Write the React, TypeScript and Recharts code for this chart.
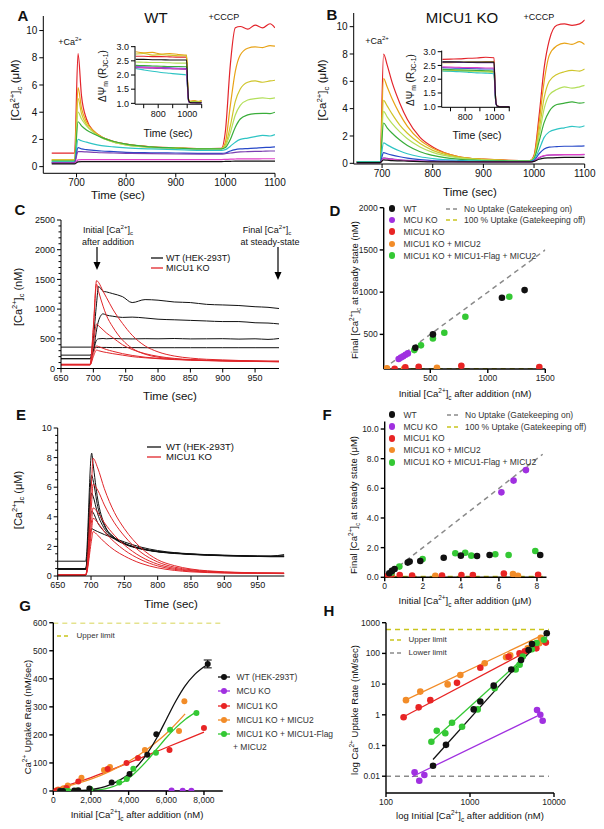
import React from 'react'
import { ComposedChart, Line, Scatter, XAxis, YAxis, ErrorBar } from 'recharts'

// ---------- panel A / B : time courses (uM) ----------
const tAB = [650, 696, 703, 710, 720, 735, 750, 775, 800, 850, 900, 950, 992, 1000, 1010, 1020, 1030, 1045, 1060, 1075, 1090, 1100]

const traceColors = ['#e3242b', '#e8a317', '#cfc52a', '#b3df5a', '#3aad3a', '#2ec4c4', '#2748c8', '#7b3fb0', '#e040c8', '#111111']

const wtA = [
  [1.0, 1.0, 8.3, 5.2, 3.5, 2.6, 2.2, 1.85, 1.65, 1.45, 1.38, 1.33, 1.35, 2.6, 7.5, 10.2, 10.3, 10.1, 10.4, 10.2, 10.5, 10.2],
  [0.5, 0.5, 5.8, 4.3, 3.3, 2.6, 2.2, 1.85, 1.65, 1.45, 1.38, 1.33, 1.33, 1.8, 4.5, 7.0, 8.2, 8.7, 8.8, 8.75, 8.9, 8.85],
  [0.5, 0.5, 5.0, 3.9, 3.1, 2.5, 2.15, 1.8, 1.6, 1.42, 1.36, 1.32, 1.32, 1.6, 3.0, 4.8, 5.7, 6.2, 6.3, 6.2, 6.3, 6.35],
  [0.45, 0.45, 4.0, 3.5, 3.0, 2.5, 2.15, 1.8, 1.6, 1.42, 1.36, 1.3, 1.3, 1.5, 2.5, 3.8, 4.5, 4.9, 5.0, 5.05, 5.0, 5.05],
  [0.4, 0.4, 3.3, 3.0, 2.7, 2.4, 2.15, 1.85, 1.65, 1.45, 1.37, 1.3, 1.3, 1.4, 2.0, 2.9, 3.5, 3.8, 3.9, 3.92, 3.9, 4.0],
  [0.35, 0.35, 2.0, 1.9, 1.8, 1.65, 1.55, 1.45, 1.38, 1.3, 1.25, 1.2, 1.2, 1.25, 1.5, 1.8, 2.0, 2.1, 2.2, 2.3, 2.25, 2.35],
  [0.3, 0.3, 1.4, 1.3, 1.25, 1.2, 1.15, 1.1, 1.05, 1.02, 1.0, 0.98, 0.98, 1.0, 1.15, 1.25, 1.3, 1.33, 1.36, 1.4, 1.42, 1.45],
  [0.3, 0.3, 1.1, 1.1, 1.08, 1.05, 1.02, 1.0, 0.98, 0.95, 0.93, 0.92, 0.92, 0.95, 1.0, 1.05, 1.08, 1.1, 1.12, 1.13, 1.15, 1.15],
  [0.25, 0.25, 0.5, 0.52, 0.52, 0.52, 0.52, 0.52, 0.52, 0.52, 0.52, 0.52, 0.52, 0.53, 0.55, 0.56, 0.57, 0.57, 0.57, 0.58, 0.58, 0.58],
  [0.2, 0.2, 0.35, 0.37, 0.37, 0.37, 0.37, 0.37, 0.37, 0.37, 0.37, 0.37, 0.37, 0.38, 0.39, 0.4, 0.4, 0.4, 0.4, 0.4, 0.4, 0.4],
]

const koB = [
  [0.1, 0.1, 8.0, 7.2, 5.9, 4.4, 3.2, 1.9, 1.2, 0.5, 0.3, 0.22, 0.2, 0.6, 3.5, 7.0, 9.0, 10.1, 10.2, 10.1, 10.2, 10.5],
  [0.1, 0.1, 6.2, 5.6, 4.7, 3.6, 2.7, 1.7, 1.1, 0.5, 0.3, 0.22, 0.2, 0.5, 3.0, 6.0, 7.9, 8.6, 8.8, 8.7, 8.9, 8.7],
  [0.1, 0.1, 4.6, 4.2, 3.6, 2.8, 2.2, 1.45, 0.95, 0.45, 0.28, 0.2, 0.2, 0.45, 2.4, 4.8, 6.0, 6.5, 6.7, 6.8, 6.75, 6.9],
  [0.1, 0.1, 3.8, 3.4, 2.9, 2.3, 1.8, 1.2, 0.8, 0.4, 0.25, 0.2, 0.18, 0.4, 2.0, 4.0, 5.0, 5.4, 5.6, 5.5, 5.6, 5.7],
  [0.1, 0.1, 2.95, 2.6, 2.2, 1.7, 1.3, 0.85, 0.58, 0.3, 0.2, 0.17, 0.16, 0.35, 1.6, 3.0, 3.8, 4.3, 4.4, 4.5, 4.4, 4.45],
  [0.1, 0.1, 1.5, 1.35, 1.15, 0.9, 0.7, 0.48, 0.35, 0.22, 0.17, 0.15, 0.15, 0.28, 1.0, 1.9, 2.3, 2.5, 2.6, 2.7, 2.65, 2.75],
  [0.05, 0.05, 0.78, 0.7, 0.6, 0.48, 0.38, 0.27, 0.2, 0.15, 0.12, 0.12, 0.12, 0.2, 0.7, 1.05, 1.18, 1.22, 1.25, 1.25, 1.26, 1.27],
  [0.05, 0.05, 0.4, 0.36, 0.32, 0.26, 0.22, 0.17, 0.14, 0.12, 0.11, 0.1, 0.1, 0.15, 0.4, 0.55, 0.6, 0.62, 0.63, 0.63, 0.63, 0.64],
  [0.05, 0.05, 0.35, 0.32, 0.28, 0.24, 0.2, 0.16, 0.13, 0.11, 0.1, 0.1, 0.1, 0.15, 0.42, 0.57, 0.61, 0.62, 0.63, 0.64, 0.64, 0.65],
  [0.05, 0.05, 0.25, 0.23, 0.2, 0.18, 0.16, 0.13, 0.11, 0.1, 0.1, 0.1, 0.1, 0.14, 0.3, 0.38, 0.4, 0.42, 0.43, 0.43, 0.44, 0.44],
]

// insets: membrane potential (R JC-1)
const tIn = [645, 700, 760, 820, 880, 940, 996, 1003, 1010, 1020, 1050, 1080, 1100]
const wtPsi = [
  [2.66, 2.66, 2.65, 2.65, 2.64, 2.63, 2.63, 1.7, 1.12, 1.06, 1.08, 1.05, 1.09],
  [2.82, 2.78, 2.8, 2.74, 2.76, 2.72, 2.7, 1.75, 1.15, 1.08, 1.1, 1.07, 1.1],
  [2.74, 2.76, 2.7, 2.72, 2.7, 2.68, 2.68, 1.7, 1.12, 1.06, 1.07, 1.06, 1.08],
  [2.46, 2.45, 2.44, 2.44, 2.43, 2.42, 2.42, 1.6, 1.1, 1.04, 1.05, 1.04, 1.05],
  [2.34, 2.33, 2.32, 2.31, 2.3, 2.3, 2.29, 1.55, 1.08, 1.03, 1.04, 1.03, 1.04],
  [2.23, 2.18, 2.13, 2.09, 2.06, 2.03, 2.0, 1.45, 1.07, 1.03, 1.03, 1.02, 1.03],
  [2.29, 2.28, 2.27, 2.26, 2.25, 2.24, 2.23, 1.5, 1.07, 1.03, 1.03, 1.02, 1.03],
  [2.26, 2.25, 2.24, 2.23, 2.22, 2.21, 2.2, 1.5, 1.07, 1.02, 1.02, 1.02, 1.02],
  [2.28, 2.27, 2.26, 2.25, 2.24, 2.22, 2.21, 1.5, 1.07, 1.02, 1.02, 1.02, 1.02],
  [2.55, 2.55, 2.54, 2.54, 2.53, 2.53, 2.53, 1.65, 1.1, 1.03, 1.02, 1.02, 1.02],
]
const koPsi = [
  [2.72, 2.73, 2.74, 2.76, 2.77, 2.8, 2.78, 1.8, 1.15, 1.03, 1.0, 1.0, 1.0],
  [2.6, 2.6, 2.61, 2.62, 2.62, 2.63, 2.63, 1.75, 1.12, 1.02, 1.0, 1.0, 1.0],
  [2.33, 2.32, 2.31, 2.3, 2.3, 2.29, 2.28, 1.55, 1.1, 1.02, 1.0, 1.0, 1.0],
  [2.3, 2.29, 2.28, 2.28, 2.27, 2.26, 2.25, 1.55, 1.1, 1.02, 1.0, 1.0, 1.0],
  [2.36, 2.35, 2.34, 2.33, 2.32, 2.31, 2.3, 1.55, 1.1, 1.02, 1.0, 1.0, 1.0],
  [2.3, 2.29, 2.27, 2.25, 2.23, 2.22, 2.2, 1.5, 1.08, 1.02, 1.0, 1.0, 1.0],
  [2.42, 2.41, 2.4, 2.39, 2.38, 2.37, 2.37, 1.6, 1.1, 1.02, 1.0, 1.0, 1.0],
  [2.62, 2.62, 2.61, 2.61, 2.6, 2.6, 2.6, 1.75, 1.12, 1.02, 1.0, 1.0, 1.0],
  [2.45, 2.44, 2.43, 2.42, 2.42, 2.41, 2.41, 1.6, 1.1, 1.02, 1.0, 1.0, 1.0],
  [2.63, 2.63, 2.63, 2.62, 2.62, 2.62, 2.62, 1.75, 1.12, 1.02, 1.0, 1.0, 1.0],
]

// ---------- panel C (nM) ----------
const tC = [650, 695, 700, 705, 708, 715, 720, 730, 745, 760, 780, 800, 825, 850, 875, 900, 925, 950, 970, 987]
const wtC = [
  [360, 360, 360, 355, 355, 355, 355, 352, 352, 352, 350, 350, 350, 350, 350, 350, 350, 350, 350, 350],
  [225, 225, 300, 480, 500, 505, 500, 505, 500, 498, 502, 500, 505, 498, 500, 502, 495, 500, 490, 505],
  [165, 165, 300, 650, 800, 920, 900, 880, 860, 865, 850, 830, 820, 810, 800, 790, 790, 770, 765, 750],
  [165, 165, 500, 1100, 1380, 1300, 1290, 1260, 1210, 1110, 1160, 1150, 1120, 1110, 1080, 1070, 1060, 1040, 1030, 1010],
]
const koC = [
  [70, 70, 700, 1480, 1450, 1300, 1200, 1000, 760, 560, 380, 280, 210, 175, 155, 145, 135, 130, 125, 125],
  [70, 70, 650, 1420, 1300, 1050, 900, 700, 480, 340, 240, 190, 160, 145, 135, 130, 125, 122, 120, 120],
  [65, 65, 400, 750, 720, 650, 600, 520, 400, 320, 250, 205, 170, 150, 140, 130, 125, 122, 120, 118],
  [60, 60, 250, 380, 370, 340, 320, 290, 250, 220, 190, 170, 155, 145, 135, 130, 125, 120, 118, 115],
  [60, 60, 200, 310, 300, 280, 270, 250, 225, 200, 180, 165, 150, 140, 132, 128, 122, 118, 115, 112],
]

// ---------- panel E (uM) ----------
const tE = [650, 692, 701, 703, 710, 720, 735, 750, 775, 800, 825, 850, 875, 900, 925, 950, 970, 990]
const wtE = [
  [1.0, 1.0, 8.3, 7.6, 5.2, 3.5, 2.6, 2.2, 1.85, 1.65, 1.55, 1.48, 1.43, 1.4, 1.38, 1.35, 1.35, 1.45],
  [0.5, 0.5, 6.8, 6.5, 4.7, 3.4, 2.6, 2.2, 1.85, 1.65, 1.55, 1.47, 1.42, 1.38, 1.36, 1.33, 1.33, 1.35],
  [0.45, 0.45, 5.6, 5.4, 4.2, 3.2, 2.55, 2.2, 1.85, 1.65, 1.55, 1.47, 1.42, 1.38, 1.35, 1.32, 1.32, 1.33],
  [0.45, 0.45, 4.4, 4.3, 3.6, 3.0, 2.5, 2.15, 1.82, 1.63, 1.52, 1.45, 1.4, 1.36, 1.34, 1.32, 1.3, 1.3],
  [0.5, 0.5, 3.2, 3.15, 3.0, 2.8, 2.55, 2.3, 1.95, 1.72, 1.58, 1.5, 1.44, 1.4, 1.37, 1.35, 1.33, 1.35],
]
const koE = [
  [0.07, 0.07, 6.5, 7.95, 7.3, 5.9, 4.3, 3.2, 1.9, 1.1, 0.7, 0.47, 0.35, 0.28, 0.24, 0.22, 0.21, 0.2],
  [0.07, 0.07, 5.0, 6.2, 5.8, 4.8, 3.6, 2.7, 1.6, 0.95, 0.6, 0.42, 0.32, 0.26, 0.22, 0.2, 0.2, 0.19],
  [0.07, 0.07, 3.8, 4.6, 4.3, 3.6, 2.75, 2.1, 1.3, 0.8, 0.52, 0.37, 0.28, 0.24, 0.21, 0.19, 0.18, 0.18],
  [0.07, 0.07, 3.2, 3.9, 3.6, 3.0, 2.3, 1.75, 1.1, 0.68, 0.45, 0.33, 0.26, 0.22, 0.2, 0.18, 0.18, 0.17],
  [0.07, 0.07, 2.5, 3.0, 2.75, 2.3, 1.75, 1.35, 0.85, 0.55, 0.38, 0.28, 0.23, 0.2, 0.18, 0.17, 0.17, 0.16],
]

// ---------- panel D (nM) ----------
const dWtX = [370, 523, 1123, 1320]
const dWtY = [342, 500, 933, 1024]
const dMcuX = [225, 245, 265, 285, 305]
const dMcuY = [208, 225, 240, 258, 275]
const dMicu1X = [190, 283, 399, 770, 1448]
const dMicu1Y = [92, 110, 117, 129, 113]
const dMicu2X = [123, 272, 558]
const dMicu2Y = [98, 92, 105]
const dFlagX = [361, 419, 523, 622, 805, 1187]
const dFlagY = [314, 370, 452, 519, 708, 945]
const dNoUpX = [95, 1500]
const dNoUpY = [95, 1500]
const dFullX = [95, 1500]
const dFullY = [93, 93]

// ---------- panel F (uM) ----------
const fWtX = [0.24, 0.38, 0.52, 1.21, 1.31, 1.87, 3.1, 4.0, 4.85, 5.51, 8.17]
const fWtY = [0.27, 0.43, 0.56, 0.99, 1.06, 1.1, 1.32, 1.46, 1.44, 1.5, 1.5]
const fMcuX = [6.13, 6.77, 7.42]
const fMcuY = [5.73, 6.52, 7.23]
const fMicu1X = [0.17, 0.35, 0.79, 1.44, 3.01, 4.03, 4.63, 6.26, 8.06]
const fMicu1Y = [0.1, 0.15, 0.15, 0.12, 0.12, 0.16, 0.15, 0.25, 0.17]
const fMicu2X = [0.2, 0.35, 2.66, 6.74, 7.0]
const fMicu2Y = [0.08, 0.1, 0.1, 0.22, 0.1]
const fFlagX = [0.35, 0.77, 1.99, 3.71, 4.23, 4.55, 5.81, 6.51, 7.91]
const fFlagY = [0.3, 0.72, 1.23, 1.62, 1.66, 1.46, 1.55, 1.5, 1.77]
const fNoUpX = [0, 8.3]
const fNoUpY = [0, 8.3]
const fFullX = [0, 8.5]
const fFullY = [0.05, 0.05]

// ---------- panels G / H : uptake rate (nM/sec) ----------
const wtX = [363, 518, 1107, 1327, 1915, 3100, 4050, 4990, 5470, 8200]
const wtY = [0.022, 0.105, 1.5, 2.7, 8.9, 30, 61, 129, 202, 453]
const wtErr = [0, 0, 0, 0, 0, 0, 0, 0, 0, 14]
const mcuX = [219, 249, 286, 6280, 6870, 7330]
const mcuY = [0.0134, 0.0071, 0.011, 1.44, 1.0, 0.64]
const micu1X = [162, 245, 337, 700, 1327, 2884, 3890, 4500, 6170, 8000]
const micu1Y = [0.83, 1.75, 3.0, 11, 34, 78, 100, 118, 146, 225]
const micu2X = [173, 256, 542, 767, 1496, 2690, 3010, 4864, 6675, 6960]
const micu2Y = [3.0, 5.7, 9.8, 19.8, 47.6, 74.6, 86, 146, 214, 320]
const flagX = [347, 402, 508, 611, 804, 1236, 1968, 3500, 3900, 4250, 5450, 6200, 7600]
const flagY = [0.133, 0.3, 0.25, 0.55, 0.41, 1.5, 7.3, 30, 43, 79, 136, 218, 278]

// G fitted curves
const gWtFitX = [500, 1000, 1500, 2000, 2500, 3000, 3500, 4000, 4500, 5000, 5500, 6000, 6500, 7000, 7500, 8200]
const gWtFitY = [0, 0.5, 2, 5, 11, 22, 38, 60, 92, 135, 190, 255, 320, 375, 415, 452]
const gMcuFitX = [200, 7400]
const gMcuFitY = [0, 0]
const gMicu1FitX = [0, 2000, 4000, 6000, 8000]
const gMicu1FitY = [5, 48, 100, 155, 210]
const gMicu2FitX = [0, 1000, 2000, 3000, 4000, 5000, 6000, 7000]
const gMicu2FitY = [5, 22, 42, 70, 105, 150, 205, 275]
const gFlagFitX = [500, 1500, 2500, 3000, 3500, 4000, 4500, 5000, 5500, 6000, 6500, 7000, 7600]
const gFlagFitY = [0, 1, 5, 12, 25, 45, 75, 110, 150, 190, 225, 255, 282]
const gUpperX = [0, 8900]
const gUpperY = [600, 600]

// H log-log fits
const hWtFitX = [363, 8470]
const hWtFitY = [0.035, 510]
const hMcuFitX = [204, 6280]
const hMcuFitY = [0.0096, 0.91]
const hMicu1FitX = [160, 8000]
const hMicu1FitY = [0.85, 245]
const hMicu2FitX = [160, 7000]
const hMicu2FitY = [2.8, 370]
const hFlagFitX = [331, 8260]
const hFlagFitY = [0.118, 350]
const hLimX = [100, 8700]
const hUpperY = [600, 600]
const hLowerY = [0.01, 0.01]

const C_WT = '#111111'
const C_MCU = '#a030e0'
const C_MICU1 = '#e82424'
const C_MICU2 = '#f28c28'
const C_FLAG = '#34c834'
const C_GRAY = '#8a8a8a'
const C_YEL = '#c9c51e'
const C_RED = '#e0262a'

const pts = (xs: number[], ys: number[]) => xs.map((x, i) => ({ x, y: ys[i] }))
const range = (a: number, b: number, s: number) => {
  const out: number[] = []
  for (let v = a; v <= b + 1e-9; v += s) out.push(Math.round(v * 1000) / 1000)
  return out
}

function frame(left: number, top: number, width: number, height: number, x0: number, y0: number, x1: number, y1: number) {
  return {
    box: { position: 'absolute' as const, left, top },
    width, height,
    margin: { top: y0 - top, right: left + width - x1, bottom: 0, left: 0 },
    yW: x0 - left,
    xH: top + height - y1,
  }
}

const igor = (fs: number) => ({
  type: 'number' as const, allowDataOverflow: true, interval: 0 as const,
  axisLine: { stroke: '#000' }, tickLine: { stroke: '#000' }, tickSize: 4, tickMargin: 2,
  tick: { fill: '#111', fontSize: fs },
})
const prism = (fs: number) => ({
  type: 'number' as const, allowDataOverflow: true, interval: 0 as const,
  axisLine: { stroke: '#000', strokeWidth: 1.4 }, tickLine: { stroke: '#000', strokeWidth: 1.4 }, tickSize: 4, tickMargin: 2,
  tick: { fill: '#222', fontSize: fs },
})

// y tick with short minor marks (labels only on major values)
const minorYTick = (fs: number, step: number) => (p: any) => {
  const v = p.payload.value
  const ax = p.x + 6
  const big = Math.abs(v / step - Math.round(v / step)) < 1e-6
  return (
    <g>
      <line x1={ax} y1={p.y} x2={ax - (big ? 4 : 2.5)} y2={p.y} stroke="#000" />
      {big && <text x={p.x} y={p.y} dy="0.355em" textAnchor="end" fontSize={fs} fill="#111">{v}</text>}
    </g>
  )
}

const sup = { fontSize: '0.68em', verticalAlign: '0.6em', lineHeight: 0 }
const sub = { fontSize: '0.68em', verticalAlign: '-0.35em', lineHeight: 0 }
const Ca = () => <>[Ca<span style={sup}>2+</span>]<span style={sub}>c</span></>

function Txt({ x, y, s = 10, rot, bold, a = 'middle', c = '#111', children }: any) {
  const tx = a === 'middle' ? '-50%' : a === 'end' ? '-100%' : '0'
  return (
    <div style={{ position: 'absolute', left: x, top: y, fontSize: s, fontWeight: bold ? 700 : 400, color: c, whiteSpace: 'nowrap', lineHeight: 1, transform: `translate(${tx},-50%)${rot ? ' rotate(-90deg)' : ''}` }}>
      {children}
    </div>
  )
}
const DotKey = ({ x, y, c, r = 3.3 }: any) => (
  <div style={{ position: 'absolute', left: x - r, top: y - r, width: 2 * r, height: 2 * r, borderRadius: '50%', background: c }} />
)
const LineKey = ({ x, y, w, c, dash, dot, sw = 1.3 }: any) => (
  <svg style={{ position: 'absolute', left: x, top: y - 4 }} width={w} height={8}>
    <line x1={0} y1={4} x2={w} y2={4} stroke={c} strokeWidth={sw} strokeDasharray={dash ? '4 3' : undefined} />
    {dot && <circle cx={w / 2} cy={4} r={3} fill={c} />}
  </svg>
)

const dotShape = (c: string, r = 3.3) => (p: any) => <circle cx={p.cx} cy={p.cy} r={r} fill={c} />

function traceLines(t: number[], rows: number[][], colors: string[], w: number, key: string) {
  return rows.map((r, i) => (
    <Line key={key + i} data={pts(t, r)} dataKey="y" stroke={colors[i]} strokeWidth={w} dot={false} type="monotone" isAnimationActive={false} />
  ))
}
function fitLine(xs: number[], ys: number[], c: string, key: string, dash = false, w = 1.3, type: any = 'monotone') {
  return <Line key={key} data={pts(xs, ys)} dataKey="y" stroke={c} strokeWidth={w} strokeDasharray={dash ? '5 4' : undefined} dot={false} type={type} isAnimationActive={false} />
}
function dots(xs: number[], ys: number[], c: string, key: string, r = 3.3) {
  return <Scatter key={key} data={pts(xs, ys)} shape={dotShape(c, r)} isAnimationActive={false} />
}

function TraceChart({ f, t, rows, colors, xd, yd, xt, yt, fs, sw, xfmt, yfmt, minorStep }: any) {
  const yProps = minorStep
    ? { tick: minorYTick(fs, minorStep), tickLine: false }
    : { tickFormatter: yfmt }
  return (
    <div style={f.box}>
      <ComposedChart width={f.width} height={f.height} margin={f.margin}>
        <XAxis dataKey="x" {...igor(fs)} domain={xd} ticks={xt} height={f.xH} tickFormatter={xfmt} />
        <YAxis dataKey="y" {...igor(fs)} domain={yd} ticks={yt} width={f.yW} {...yProps} />
        {rows.map((r: number[][], k: number) => traceLines(t[k], r, colors[k], sw, 's' + k))}
      </ComposedChart>
    </div>
  )
}

export default function App() {
  const fA = frame(0, 0, 290, 195, 43.3, 16, 275, 173.3)
  const fAi = frame(100, 40, 110, 80, 135, 46.1, 201.7, 104.2)
  const fB = frame(302, 0, 302, 195, 353.7, 13, 584.7, 164)
  const fBi = frame(405, 44, 110, 80, 441.7, 50.6, 510, 107.3)
  const fC = frame(0, 205, 290, 195, 61, 220, 279, 368.5)
  const fD = frame(302, 198, 300, 197, 383.7, 207.7, 545.3, 369)
  const fE = frame(0, 415, 290, 190, 57.7, 428, 284.3, 576)
  const fF = frame(302, 410, 300, 190, 384.7, 421.6, 546.5, 577.3)
  const fG = frame(0, 615, 300, 200, 53.3, 622.7, 222.8, 791)
  const fH = frame(302, 615, 300, 200, 386, 622.7, 554, 793)

  const inTicks = [700, 800, 900, 1000, 1100]
  const inFmt = (v: number) => (v === 800 || v === 1000 ? String(v) : '')
  const f1 = (v: number) => v.toFixed(1)
  const comma = (v: number) => v.toLocaleString('en-US')

  const gWt = wtX.map((x, i) => ({ x, y: wtY[i], e: wtErr[i] }))

  return (
    <div style={{ position: 'absolute', left: 0, top: 0, width: 604, height: 829, background: '#fff', fontFamily: 'Arial, "Liberation Sans", Helvetica, sans-serif', color: '#111' }}>
      {/* A */}
      <TraceChart f={fA} t={[tAB]} rows={[wtA]} colors={[traceColors]} xd={[633, 1100]} yd={[-0.49, 11.07]} xt={[700, 800, 900, 1000, 1100]} yt={[0, 2, 4, 6, 8, 10]} fs={10} sw={1.2} />
      <TraceChart f={fAi} t={[tIn]} rows={[wtPsi]} colors={[traceColors]} xd={[640, 1100]} yd={[0.97, 3.02]} xt={inTicks} yt={[1, 1.5, 2, 2.5, 3]} fs={9} sw={1.1} xfmt={inFmt} yfmt={f1} />
      {/* B */}
      <TraceChart f={fB} t={[tAB]} rows={[koB]} colors={[traceColors]} xd={[644, 1100]} yd={[-0.05, 11]} xt={[700, 800, 900, 1000, 1100]} yt={[0, 2, 4, 6, 8, 10]} fs={10} sw={1.2} />
      <TraceChart f={fBi} t={[tIn]} rows={[koPsi]} colors={[traceColors]} xd={[640, 1105]} yd={[0.98, 3.04]} xt={inTicks} yt={[1, 1.5, 2, 2.5, 3]} fs={9} sw={1.1} xfmt={inFmt} yfmt={f1} />
      {/* C */}
      <TraceChart f={fC} t={[tC, tC]} rows={[wtC, koC]} colors={[wtC.map(() => C_WT), koC.map(() => C_RED)]} xd={[650, 987]} yd={[0, 2500]} xt={[650, 700, 750, 800, 850, 900, 950]} yt={range(0, 2500, 100)} minorStep={500} fs={9} sw={1} />
      {/* E */}
      <TraceChart f={fE} t={[tE, tE]} rows={[wtE, koE]} colors={[wtE.map(() => C_WT), koE.map(() => C_RED)]} xd={[650, 990]} yd={[0, 10]} xt={[650, 700, 750, 800, 850, 900, 950]} yt={range(0, 10, 0.5)} minorStep={2} fs={9} sw={1} />

      {/* D */}
      <div style={fD.box}>
        <ComposedChart width={fD.width} height={fD.height} margin={fD.margin}>
          <XAxis dataKey="x" {...prism(8.5)} domain={[95, 1500]} ticks={[500, 1000, 1500]} height={fD.xH} />
          <YAxis dataKey="y" {...prism(8.5)} domain={[90, 2000]} ticks={[500, 1000, 1500, 2000]} width={fD.yW} />
          {fitLine(dFullX, dFullY, C_YEL, 'df', true, 1.5, 'linear')}
          {fitLine(dNoUpX, dNoUpY, C_GRAY, 'dn', true, 1.5, 'linear')}
          {dots(dMicu2X, dMicu2Y, C_MICU2, 'd4')}
          {dots(dMicu1X, dMicu1Y, C_MICU1, 'd3')}
          {dots(dMcuX, dMcuY, C_MCU, 'd2')}
          {dots(dFlagX, dFlagY, C_FLAG, 'd5')}
          {dots(dWtX, dWtY, C_WT, 'd1')}
        </ComposedChart>
      </div>

      {/* F */}
      <div style={fF.box}>
        <ComposedChart width={fF.width} height={fF.height} margin={fF.margin}>
          <XAxis dataKey="x" {...prism(8.5)} domain={[0, 8.5]} ticks={[0, 2, 4, 6, 8]} height={fF.xH} />
          <YAxis dataKey="y" {...prism(8.5)} domain={[0, 10.5]} ticks={[0, 2, 4, 6, 8, 10]} width={fF.yW} tickFormatter={f1} />
          {fitLine(fFullX, fFullY, C_YEL, 'ff', true, 1.5, 'linear')}
          {fitLine(fNoUpX, fNoUpY, C_GRAY, 'fn', true, 1.5, 'linear')}
          {dots(fMicu2X, fMicu2Y, C_MICU2, 'f4')}
          {dots(fMicu1X, fMicu1Y, C_MICU1, 'f3')}
          {dots(fMcuX, fMcuY, C_MCU, 'f2')}
          {dots(fFlagX, fFlagY, C_FLAG, 'f5')}
          {dots(fWtX, fWtY, C_WT, 'f1')}
        </ComposedChart>
      </div>

      {/* G */}
      <div style={fG.box}>
        <ComposedChart width={fG.width} height={fG.height} margin={fG.margin}>
          <XAxis dataKey="x" {...prism(8.5)} domain={[0, 9000]} ticks={[0, 2000, 4000, 6000, 8000]} height={fG.xH} tickFormatter={comma} />
          <YAxis dataKey="y" {...prism(8.5)} domain={[0, 600]} ticks={[0, 100, 200, 300, 400, 500, 600]} width={fG.yW} />
          {fitLine(gUpperX, gUpperY, C_YEL, 'gu', true, 1.5, 'linear')}
          {fitLine(gMcuFitX, gMcuFitY, C_MCU, 'g2')}
          {fitLine(gMicu1FitX, gMicu1FitY, C_MICU1, 'g3')}
          {fitLine(gMicu2FitX, gMicu2FitY, C_MICU2, 'g4')}
          {fitLine(gFlagFitX, gFlagFitY, C_FLAG, 'g5')}
          {fitLine(gWtFitX, gWtFitY, C_WT, 'g1')}
          {dots(mcuX, mcuY, C_MCU, 'gd2', 3)}
          {dots(micu2X, micu2Y, C_MICU2, 'gd4', 3)}
          {dots(micu1X, micu1Y, C_MICU1, 'gd3', 3)}
          {dots(flagX, flagY, C_FLAG, 'gd5', 3)}
          <Scatter data={gWt} shape={dotShape(C_WT, 3)} isAnimationActive={false}>
            <ErrorBar dataKey="e" direction="y" width={4} stroke="#000" strokeWidth={1} />
          </Scatter>
        </ComposedChart>
      </div>

      {/* H */}
      <div style={fH.box}>
        <ComposedChart width={fH.width} height={fH.height} margin={fH.margin}>
          <XAxis dataKey="x" {...prism(8.5)} scale="log" domain={[100, 10000]} ticks={[100, 1000, 10000]} height={fH.xH} />
          <YAxis dataKey="y" {...prism(8.5)} scale="log" domain={[0.00284, 1000]} ticks={[0.01, 0.1, 1, 10, 100, 1000]} width={fH.yW} />
          {fitLine(hLimX, hUpperY, C_YEL, 'hu', true, 1.5, 'linear')}
          {fitLine(hLimX, hLowerY, C_GRAY, 'hl', true, 1.5, 'linear')}
          {fitLine(hMcuFitX, hMcuFitY, C_MCU, 'h2', false, 1.3, 'linear')}
          {fitLine(hMicu1FitX, hMicu1FitY, C_MICU1, 'h3', false, 1.3, 'linear')}
          {fitLine(hMicu2FitX, hMicu2FitY, C_MICU2, 'h4', false, 1.3, 'linear')}
          {fitLine(hFlagFitX, hFlagFitY, C_FLAG, 'h5', false, 1.3, 'linear')}
          {fitLine(hWtFitX, hWtFitY, C_WT, 'h1', false, 1.3, 'linear')}
          {dots(mcuX, mcuY, C_MCU, 'hd2')}
          {dots(micu2X, micu2Y, C_MICU2, 'hd4')}
          {dots(micu1X, micu1Y, C_MICU1, 'hd3')}
          {dots(flagX, flagY, C_FLAG, 'hd5')}
          {dots(wtX, wtY, C_WT, 'hd1')}
        </ComposedChart>
      </div>

      {/* ---- texts: A ---- */}
      <Txt x={23} y={15} s={15} bold>A</Txt>
      <Txt x={156} y={17} s={15}>WT</Txt>
      <Txt x={224} y={17} s={9}>+CCCP</Txt>
      <Txt x={70} y={42} s={9}>+Ca<span style={sup}>2+</span></Txt>
      <Txt x={16} y={90} s={11.5} rot><Ca /> (μM)</Txt>
      <Txt x={118} y={196} s={11.5}>Time (sec)</Txt>
      <Txt x={103} y={76} s={10} rot>ΔΨ<span style={sub}>m</span> (R<span style={sub}>JC-1</span>)</Txt>
      <Txt x={168} y={133} s={10.5}>Time (sec)</Txt>

      {/* B */}
      <Txt x={332} y={14} s={15} bold>B</Txt>
      <Txt x={462} y={17} s={15}>MICU1 KO</Txt>
      <Txt x={539} y={17} s={9}>+CCCP</Txt>
      <Txt x={377} y={41} s={9}>+Ca<span style={sup}>2+</span></Txt>
      <Txt x={323} y={90} s={11.5} rot><Ca /> (μM)</Txt>
      <Txt x={470} y={193} s={11.5}>Time (sec)</Txt>
      <Txt x={411} y={80} s={10} rot>ΔΨ<span style={sub}>m</span> (R<span style={sub}>JC-1</span>)</Txt>
      <Txt x={477} y={135} s={10.5}>Time (sec)</Txt>

      {/* C */}
      <Txt x={20} y={209} s={15} bold>C</Txt>
      <Txt x={18} y={297} s={11} rot><Ca /> (nM)</Txt>
      <Txt x={170} y={397} s={11.5}>Time (sec)</Txt>
      <Txt x={108} y={230} s={9}>Initial <Ca /></Txt>
      <Txt x={108} y={242} s={9}>after addition</Txt>
      <Txt x={267} y={230} s={9}>Final <Ca /></Txt>
      <Txt x={270} y={242} s={9}>at steady-state</Txt>
      <svg style={{ position: 'absolute', left: 90, top: 246 }} width={14} height={26}>
        <line x1={7} y1={1} x2={7} y2={18} stroke="#000" strokeWidth={1.2} />
        <path d="M3.5 16 L7 24 L10.5 16 Z" fill="#000" />
      </svg>
      <svg style={{ position: 'absolute', left: 271, top: 246 }} width={14} height={36}>
        <line x1={7} y1={1} x2={7} y2={28} stroke="#000" strokeWidth={1.2} />
        <path d="M3.5 26 L7 34 L10.5 26 Z" fill="#000" />
      </svg>
      <LineKey x={151} y={257.5} w={12} c={C_WT} />
      <Txt x={166} y={257.5} s={9} a="start">WT (HEK-293T)</Txt>
      <LineKey x={151} y={267.5} w={12} c={C_RED} />
      <Txt x={166} y={267.5} s={9} a="start">MICU1 KO</Txt>

      {/* D */}
      <Txt x={335} y={210} s={15} bold>D</Txt>
      <Txt x={355} y={290} s={9.5} rot>Final <Ca /> at steady state (nM)</Txt>
      <Txt x={465} y={394} s={9.5}>Initial <Ca /> after addition (nM)</Txt>
      {[['WT', C_WT], ['MCU KO', C_MCU], ['MICU1 KO', C_MICU1], ['MICU1 KO + MICU2', C_MICU2], ['MICU1 KO + MICU1-Flag + MICU2', C_FLAG]].map(([l, c], i) => (
        <React.Fragment key={'dl' + i}>
          <DotKey x={392} y={[208.5, 220, 231.7, 244, 255.7][i]} c={c} />
          <Txt x={403.5} y={[208.5, 220, 231.7, 244, 255.7][i]} s={8.5} a="start" c="#333">{l}</Txt>
        </React.Fragment>
      ))}
      <LineKey x={446} y={208.5} w={13} c={C_GRAY} dash sw={1.5} />
      <Txt x={464} y={208.5} s={8.5} a="start" c="#333">No Uptake (Gatekeeping on)</Txt>
      <LineKey x={446} y={220} w={13} c={C_YEL} dash sw={1.5} />
      <Txt x={464} y={220} s={8.5} a="start" c="#333">100 % Uptake (Gatekeeping off)</Txt>

      {/* E */}
      <Txt x={21} y={414} s={15} bold>E</Txt>
      <Txt x={18} y={500} s={11} rot><Ca /> (μM)</Txt>
      <Txt x={171} y={605} s={11.5}>Time (sec)</Txt>
      <LineKey x={147} y={447} w={14} c={C_WT} />
      <Txt x={166} y={447} s={9.5} a="start">WT (HEK-293T)</Txt>
      <LineKey x={147} y={457} w={14} c={C_RED} />
      <Txt x={166} y={457} s={9.5} a="start">MICU1 KO</Txt>

      {/* F */}
      <Txt x={327} y={414} s={15} bold>F</Txt>
      <Txt x={354} y={505} s={9.5} rot>Final <Ca /> at steady state (μM)</Txt>
      <Txt x={465} y={601} s={9.5}>Initial <Ca /> after addition (μM)</Txt>
      {[['WT', C_WT], ['MCU KO', C_MCU], ['MICU1 KO', C_MICU1], ['MICU1 KO + MICU2', C_MICU2], ['MICU1 KO + MICU1-Flag + MICU2', C_FLAG]].map(([l, c], i) => (
        <React.Fragment key={'fl' + i}>
          <DotKey x={392} y={[414.5, 426.7, 438.3, 450, 462.3][i]} c={c} />
          <Txt x={403.5} y={[414.5, 426.7, 438.3, 450, 462.3][i]} s={8.5} a="start" c="#333">{l}</Txt>
        </React.Fragment>
      ))}
      <LineKey x={447} y={414.5} w={13} c={C_GRAY} dash sw={1.5} />
      <Txt x={465} y={414.5} s={8.5} a="start" c="#333">No Uptake (Gatekeeping on)</Txt>
      <LineKey x={447} y={426.7} w={13} c={C_YEL} dash sw={1.5} />
      <Txt x={465} y={426.7} s={8.5} a="start" c="#333">100 % Uptake (Gatekeeping off)</Txt>

      {/* G */}
      <Txt x={25} y={605} s={15} bold>G</Txt>
      <Txt x={28} y={717} s={9.5} rot>Ca<span style={sup}>2+</span> Uptake Rate (nM/sec)</Txt>
      <Txt x={137} y={815} s={9.5}>Initial <Ca /> after addition (nM)</Txt>
      <LineKey x={57} y={636} w={12} c={C_YEL} dash sw={1.5} />
      <Txt x={76.5} y={636} s={8} a="start" c="#333">Upper limit</Txt>
      {[['WT (HEK-293T)', C_WT], ['MCU KO', C_MCU], ['MICU1 KO', C_MICU1], ['MICU1 KO + MICU2', C_MICU2], ['MICU1 KO + MICU1-Flag', C_FLAG]].map(([l, c], i) => (
        <React.Fragment key={'gl' + i}>
          <LineKey x={218} y={[676.7, 691, 706, 720, 734.3][i]} w={12} c={c} dot />
          <Txt x={236.5} y={[676.7, 691, 706, 720, 734.3][i]} s={8.5} a="start" c="#333">{l}</Txt>
        </React.Fragment>
      ))}
      <Txt x={233} y={747} s={8.5} a="start" c="#333">+ MICU2</Txt>

      {/* H */}
      <Txt x={329} y={610} s={15} bold>H</Txt>
      <Txt x={355} y={710} s={9.5} rot>log Ca<span style={sup}>2+</span> Uptake Rate (nM/sec)</Txt>
      <Txt x={470} y={816} s={9.5}>log Initial <Ca /> after addition (nM)</Txt>
      <LineKey x={390} y={640} w={12} c={C_YEL} dash sw={1.5} />
      <Txt x={408.5} y={640} s={8} a="start" c="#333">Upper limit</Txt>
      <LineKey x={390} y={652.7} w={12} c={C_GRAY} dash sw={1.5} />
      <Txt x={408.5} y={652.7} s={8} a="start" c="#333">Lower limit</Txt>
    </div>
  )
}
